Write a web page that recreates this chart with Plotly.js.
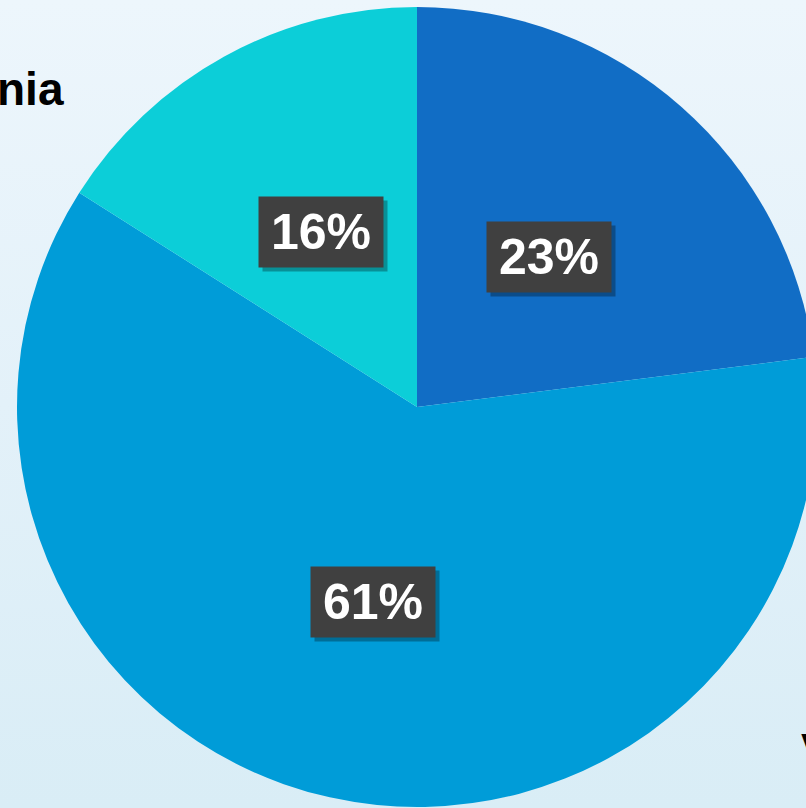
<!DOCTYPE html>
<html>
<head>
<meta charset="utf-8">
<script src="https://cdn.plot.ly/plotly-3.0.1.min.js"></script>
<style>
html,body{margin:0;padding:0;width:806px;height:808px;overflow:hidden;
background:linear-gradient(180deg,#EDF6FC 0%,#E3F1F9 50%,#D9EDF6 100%);}
#chart{position:absolute;left:0;top:0;width:834px;height:814px;}
</style>
</head>
<body>
<div id="chart"></div>
<script>
var categories = ["Segment A", "Segment B", "Segment C"];
var values = [23, 61, 16];
var colors = ["#116DC5", "#009CD8", "#0CCED8"];
var outerLabels = ["nia", "V"];

var W = 834, H = 814, ML = 17, MT = 7, PW = 800, PH = 800;
var total = values.reduce(function(a,b){return a+b;},0);
var annotations = [];
var cum = 0;
for (var i = 0; i < values.length; i++) {
  var mid = (cum + values[i]/2) / total * 2 * Math.PI;
  cum += values[i];
  var fx = 0.5 + 0.25 * Math.sin(mid);
  var fy = 0.5 + 0.25 * Math.cos(mid);
  var pct = Math.round(values[i] / total * 100) + "%";
  annotations.push({
    xref: "paper", yref: "paper", x: fx, y: fy, xanchor: "center", yanchor: "middle",
    text: "&nbsp;", showarrow: false, xshift: 4, yshift: -4,
    width: 114, height: 60, borderpad: 5,
    font: {family: "Liberation Sans, Arial, sans-serif", size: 50, color: "rgba(0,0,0,0)"},
    bgcolor: "rgba(0,0,0,0.3)"
  });
  annotations.push({
    xref: "paper", yref: "paper", x: fx, y: fy, xanchor: "center", yanchor: "middle",
    text: "<b>" + pct + "</b>", showarrow: false,
    width: 114, height: 60, borderpad: 5,
    font: {family: "Liberation Sans, Arial, sans-serif", size: 50, color: "#FFFFFF"},
    bgcolor: "#404040"
  });
}
annotations.push({
  xref: "paper", yref: "paper", x: (66 - ML) / PW, y: 1 - (89 - MT) / PH,
  xanchor: "right", yanchor: "middle", showarrow: false,
  text: "<b>" + outerLabels[0] + "</b>",
  font: {family: "Liberation Sans, Arial, sans-serif", size: 46, color: "#000000"}
});
annotations.push({
  xref: "paper", yref: "paper", x: (799 - ML) / PW, y: 1 - (750 - MT) / PH,
  xanchor: "left", yanchor: "middle", showarrow: false,
  text: "<b>" + outerLabels[1] + "</b>",
  font: {family: "Liberation Sans, Arial, sans-serif", size: 46, color: "#000000"}
});

var data = [{
  type: "pie",
  labels: categories,
  values: values,
  sort: false,
  direction: "clockwise",
  rotation: 0,
  textinfo: "none",
  hoverinfo: "label+percent",
  marker: {colors: colors, line: {width: 0}},
  showlegend: false
}];

var layout = {
  width: W, height: H,
  margin: {l: ML, r: W - ML - PW, t: MT, b: H - MT - PH, pad: 0},
  paper_bgcolor: "rgba(0,0,0,0)",
  plot_bgcolor: "rgba(0,0,0,0)",
  showlegend: false,
  annotations: annotations
};
Plotly.newPlot("chart", data, layout, {displayModeBar: false, staticPlot: true});
</script>
</body>
</html>
